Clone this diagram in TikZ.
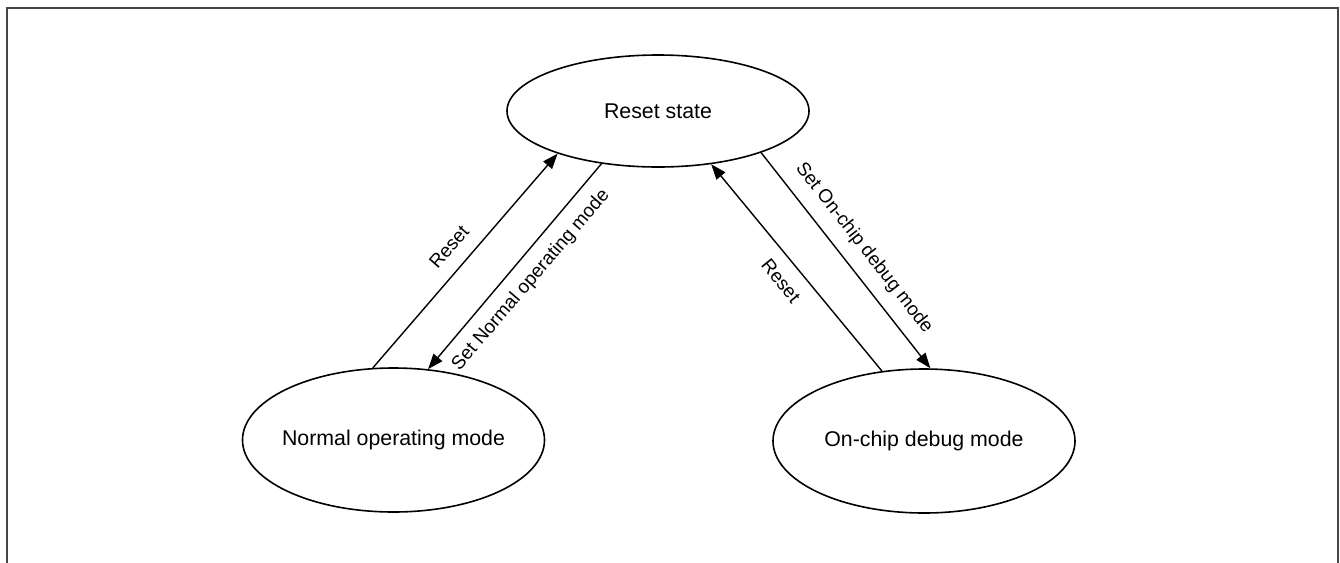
\documentclass[tikz,border=0pt]{standalone}
\usepackage{fontspec}
\setmainfont{Liberation Sans}
\usetikzlibrary{shapes.geometric,arrows.meta}
\definecolor{framegray}{RGB}{70,70,70}
\begin{document}
\begin{tikzpicture}[x=0.75pt,y=-0.75pt,
  state/.style={ellipse, draw, line width=1.2pt, inner sep=0pt,
    minimum width=226.5pt, font=\fontsize{16}{19}\selectfont},
  conn/.style={line width=1.05pt, -{Triangle[length=11.5pt,width=8.5pt]}},
  lbl/.style={font=\fontsize{14.2}{17}\selectfont, inner sep=0pt}]
\useasboundingbox (0,0) rectangle (1340,562);
\draw[line width=1.3pt, draw=framegray] (7,575) -- (7,8) -- (1338,8) -- (1338,575);
\node[state, minimum height=84pt] (reset) at (658,111) {\makebox[0pt]{Reset state}};
\node[state, minimum height=108pt] (normal) at (393.5,440) {\makebox[0pt]{Normal operating mode}};
\node[state, minimum height=108pt] (debug) at (924,441) {\makebox[0pt]{On-chip debug mode}};
\draw[conn] (normal.106) -- (reset.203.5);
\draw[conn] (reset.223.5) -- (normal.64.7);
\draw[conn] (debug.121.8) -- (reset.315.5);
\draw[conn] (reset.338.2) -- (debug.85.4);
\node[lbl, rotate=49] (l1) at (449,247) {Reset};
\node[lbl, rotate=49.5] (l2) at (531,280) {Set Normal operating mode};
\node[lbl, rotate=-51] (l3) at (781,281) {Reset};
\node[lbl, rotate=-52] (l4) at (864,248) {Set On-chip debug mode};
\end{tikzpicture}
\end{document}
